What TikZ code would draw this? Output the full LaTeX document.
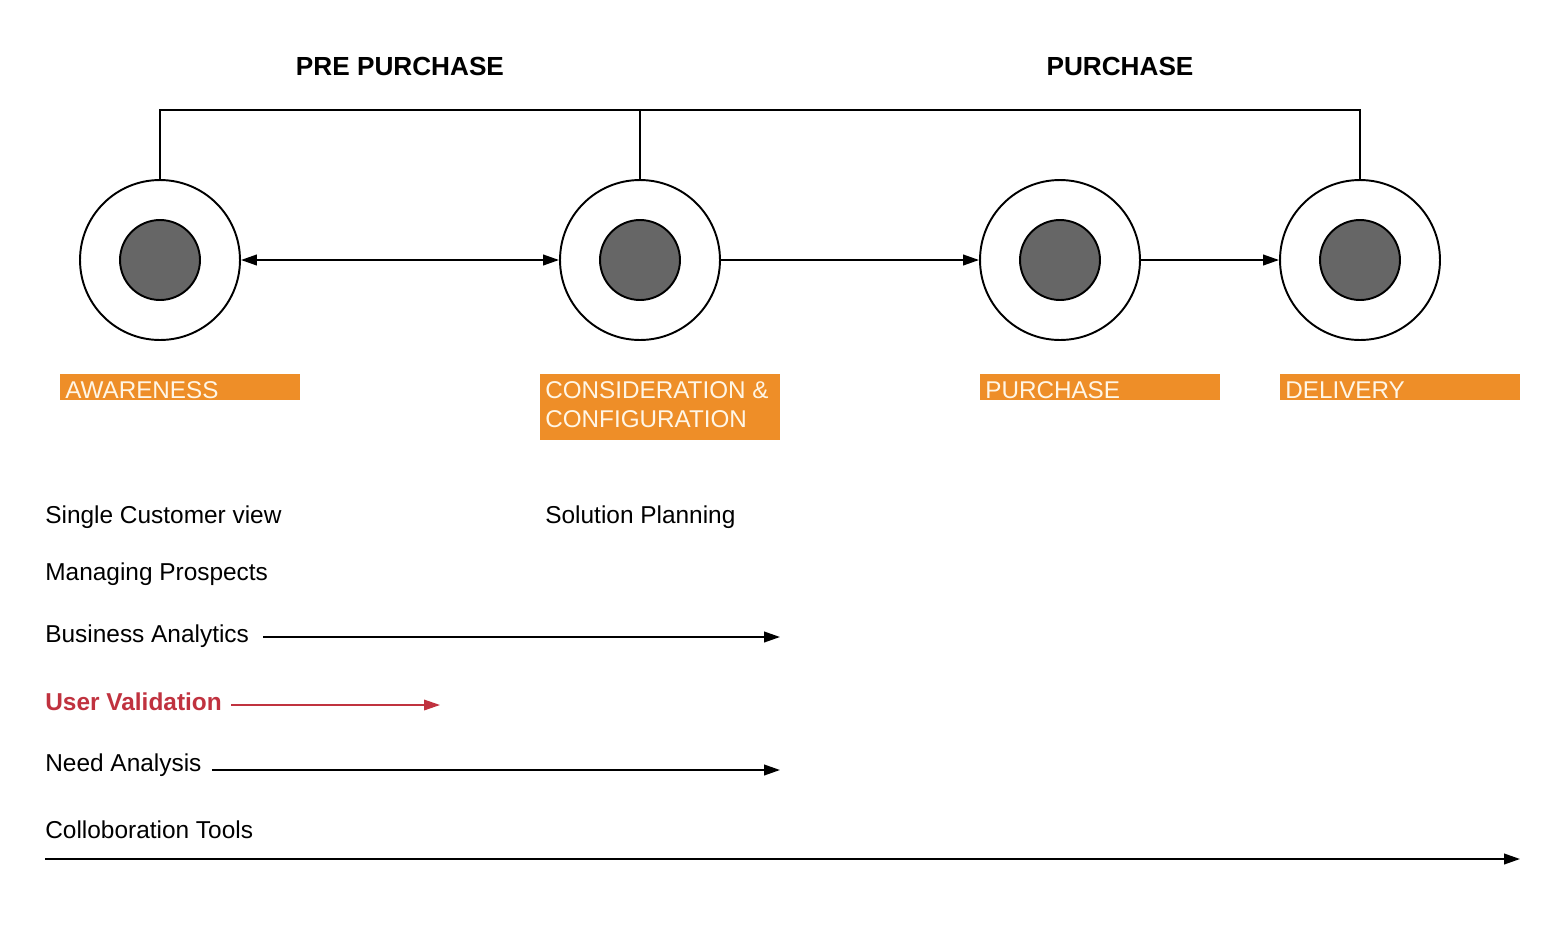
\documentclass[tikz,border=0pt]{standalone}
\usepackage{fontspec}
\setmainfont{Liberation Sans}
\usetikzlibrary{arrows.meta}
\definecolor{stageorange}{HTML}{EE8E28}
\definecolor{stagetext}{HTML}{FFF6E6}
\definecolor{hubgray}{HTML}{666666}
\definecolor{alertred}{HTML}{C0323F}
\tikzstyle{ring}=[circle,draw=black,fill=white,line width=1.1pt,inner sep=0pt,minimum size=3.2cm]
\tikzstyle{hub}=[circle,draw=black,fill=hubgray,line width=1.1pt,inner sep=0pt,minimum size=1.6cm]
\tikzstyle{stagebox}=[fill=stageorange,inner sep=0pt,anchor=north west,minimum width=4.8cm,minimum height=0.52cm]
\tikzstyle{stagelabel}=[text=stagetext,anchor=west,inner sep=0pt,font=\fontsize{13.8}{16.4}\selectfont]
\tikzstyle{phase}=[inner sep=0pt,font=\bfseries\fontsize{14.9}{17}\selectfont]
\tikzstyle{item}=[anchor=west,inner sep=0pt,font=\fontsize{13.9}{16}\selectfont]
\tikzstyle{flow}=[line width=1.1pt,-{Triangle[length=9pt,width=6pt]}]
\tikzstyle{twoway}=[line width=1.1pt,{Triangle[length=9pt,width=6pt]}-{Triangle[length=9pt,width=6pt]}]

\begin{document}
\begin{tikzpicture}[x=0.02cm,y=-0.02cm]
		\useasboundingbox (0,0) rectangle (1560,951);
		% phases
		\node (pre) at (400,66) [phase] {PRE PURCHASE};
		\node (buy) at (1120,66) [phase] {PURCHASE};
		
		% stages
		\node (o1) at (160,260) [ring] {};
		\node (h1) at (160,260) [hub] {};
		\node (o2) at (640,260) [ring] {};
		\node (h2) at (640,260) [hub] {};
		\node (o3) at (1060,260) [ring] {};
		\node (h3) at (1060,260) [hub] {};
		\node (o4) at (1360,260) [ring] {};
		\node (h4) at (1360,260) [hub] {};
		
		\coordinate (bar) at (640,110);
		\draw[line width=1.1pt] (o1.north) |- (bar) -| (o4.north);
		\draw[line width=1.1pt] (o2.north) -- (bar);
		
		\draw[twoway] (o1) -- (o2);
		\draw[flow] (o2) -- (o3);
		\draw[flow] (o3) -- (o4);
		
		\node (b1) at (60,374) [stagebox] {};
		\node (b2) at (540,374) [stagebox,minimum height=1.32cm] {};
		\node (b3) at (980,374) [stagebox] {};
		\node (b4) at (1280,374) [stagebox] {};
		\node (s1) at (65,390) [stagelabel] {AWARENESS};
		\node (s2) at (545,381) [stagelabel,anchor=north west,align=left] {CONSIDERATION \&\\CONFIGURATION};
		\node (s3) at (985,390) [stagelabel] {PURCHASE};
		\node (s4) at (1285,390) [stagelabel] {DELIVERY};
		
		% capabilities
		\node (scv) at (45,517) [item] {Single Customer view};
		\node (sp) at (545,517) [item] {Solution Planning};
		\node (mp) at (45,574) [item] {Managing Prospects};
		\node (ba) at (45,636) [item] {Business Analytics};
		\node (uv) at (45,702) [item,text=alertred,font=\bfseries\fontsize{13.9}{16}\selectfont] {User Validation};
		\node (na) at (45,765) [item] {Need Analysis};
		\node (ct) at (45,830) [item] {Colloboration Tools};
		
		\coordinate (baend) at (780,637);
		\coordinate (uvend) at (440,705);
		\coordinate (naend) at (780,770);
		\coordinate (ctstart) at (45,859);
		\coordinate (ctend) at (1520,859);
		\draw[flow,shorten <=0.28cm] (ba.east |- baend) -- (baend);
		\draw[flow,alertred,line width=0.8pt,shorten <=0.18cm] (uv.east |- uvend) -- (uvend);
		\draw[flow,shorten <=0.2cm] (na.east |- naend) -- (naend);
		\draw[flow] (ctstart) -- (ctend);
	\end{tikzpicture}
\end{document}
